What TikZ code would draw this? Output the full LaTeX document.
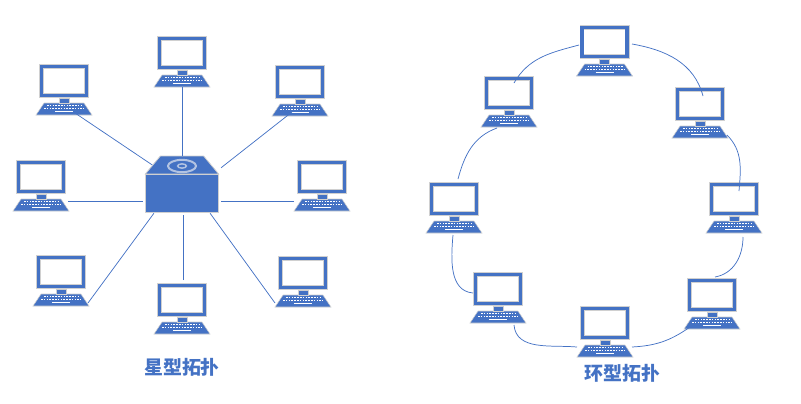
\documentclass[tikz,border=0pt]{standalone}
\usepackage{fontspec}
\newfontfamily\cjk{Noto Sans CJK SC}
\usetikzlibrary{shapes.geometric}
\definecolor{netblue}{HTML}{4472C4}
\definecolor{edgegray}{HTML}{D0D0D0}
\definecolor{discblue}{HTML}{B2C3E2}
\tikzset{
monitor/.style={rectangle,draw=edgegray,line width=.4pt,double=netblue,double distance=2.7pt,fill=white,minimum width=34pt,minimum height=22pt,inner sep=0},
keyboard/.style={trapezium,trapezium stretches=true,trapezium left angle=78.5,trapezium right angle=78.5,draw=edgegray,line width=.4pt,fill=netblue,minimum width=42pt,minimum height=9pt,inner sep=1pt},
hubbox/.style={rectangle,draw=edgegray,line width=.6pt,fill=netblue,minimum width=55pt,minimum height=29pt,inner sep=0},
hubtop/.style={trapezium,trapezium stretches=true,trapezium left angle=70.8,trapezium right angle=70.8,draw=edgegray,line width=.6pt,fill=netblue,minimum width=55pt,minimum height=13.5pt,inner sep=1pt},
link/.style={draw=netblue,line width=.55pt},
keys/.style={draw=white,line width=.6pt,dash pattern=on 1.2pt off .9pt},
title/.style={text=netblue,font=\cjk\bfseries\fontsize{14.2pt}{16pt}\selectfont,inner sep=0}
}
\newcommand{\computer}[3]{
\node[monitor](#1) at (#2,#3) {};
\node[keyboard](#1k) at (#2,#3+28) {};
\begin{scope}[shift={(#2,#3)}]
\draw[edgegray,line width=.3pt,fill=netblue] (-5,17.5) rectangle (5,22);
\draw[keys] (-17,24.8) -- (18,24.8);
\draw[keys] (-20,27.6) -- (20,27.6);
\draw[white,line width=.7pt] (-9,30.6) -- (9,30.6);
\end{scope}
}
\begin{document}
\begin{tikzpicture}[x=.75pt,y=-.75pt]
\useasboundingbox (0,0) rectangle (801,404);
\computer{s0}{182}{53}
\computer{s1}{64}{81}
\computer{s2}{300}{82}
\computer{s3}{41}{177}
\computer{s4}{322}{177}
\computer{s5}{61}{272}
\computer{s6}{303}{273}
\computer{s7}{182}{300}
\node[hubtop](hubt) at (182,165) {};
\node[hubbox](hub) at (182,193.5) {};
\draw[discblue,line width=1.5pt] (hubt.center) ++(0,1) ellipse (10.5pt and 4.6pt);
\draw[discblue,line width=1.1pt] (hubt.center) ++(0,1) ellipse (3.3pt and 1.6pt);
\draw[link] (s0k.south) -- (hubt.north);
\draw[link] ([shift={(11,32)}]s1.center) -- (hubt.west);
\draw[link] ([shift={(-8,30)}]s2.center) -- ([shift={(2,-6)}]hub.north east);
\draw[link] ([shift={(27,24)}]s3.center) -- ([shift={(-2,7.5)}]hub.west);
\draw[link] ([shift={(-28,24)}]s4.center) -- ([shift={(2,7.5)}]hub.east);
\draw[link] ([shift={(27,31)}]s5.center) -- ([shift={(9,0)}]hub.south west);
\draw[link] ([shift={(-28,30)}]s6.center) -- ([shift={(-9,0)}]hub.south east);
\draw[link] ([shift={(1,-20)}]s7.center) -- ([shift={(1,1.5)}]hub.south);
\node[title](star) at (182,367) {星型拓扑};
\computer{r0}{604.5}{42}
\computer{r1}{509}{93}
\computer{r2}{700}{104}
\computer{r3}{454}{199}
\computer{r4}{734}{199}
\computer{r5}{498}{289}
\computer{r6}{605}{323}
\computer{r7}{712}{295}
\draw[link] ([shift={(-25.5,3)}]r0.center) to[out=195,in=60] ([shift={(5,-10)}]r1.center);
\draw[link] ([shift={(27.5,2)}]r0.center) to[out=-10,in=105] ([shift={(3,-8)}]r2.center);
\draw[link] ([shift={(-12,35)}]r1.center) to[out=200,in=75] ([shift={(4,-20)}]r3.center);
\draw[link] ([shift={(27,31)}]r2.center) to[out=-45,in=85] ([shift={(5,-8)}]r4.center);
\draw[link] ([shift={(-1,36)}]r3.center) to[out=-95,in=175] ([shift={(-25,4)}]r5.center);
\draw[link] ([shift={(16,36)}]r5.center) to[out=-85,in=175] ([shift={(-28,24)}]r6.center);
\draw[link] ([shift={(27,24)}]r6.center) to[out=3,in=215] ([shift={(-22,32)}]r7.center);
\draw[link] ([shift={(9,38)}]r4.center) to[out=-90,in=10] ([shift={(3,-18)}]r7.center);
\node[title](ring) at (622.5,373) {环型拓扑};
\end{tikzpicture}
\end{document}
